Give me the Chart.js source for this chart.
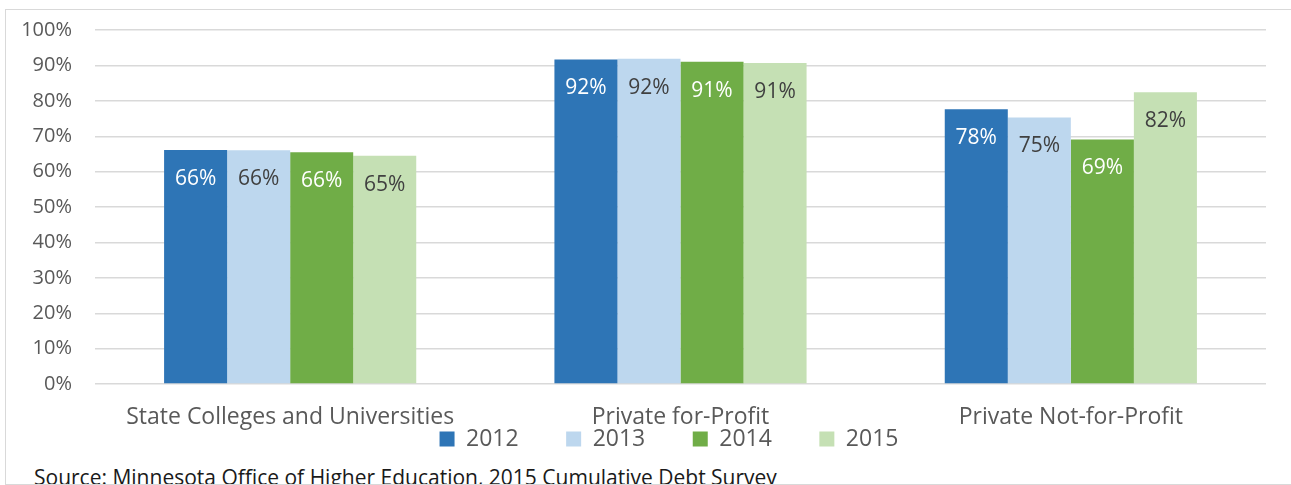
<!DOCTYPE html>
<html>
<head>
<meta charset="utf-8">
<script src="https://cdn.jsdelivr.net/npm/chart.js@4"></script>
<style>
  html, body { margin: 0; padding: 0; background: #fff; overflow: hidden; }
  #wrap { position: relative; width: 1291px; height: 485px; overflow: hidden; }
  #frame {
    position: absolute; left: 5px; top: 8.5px; width: 1300px; height: 476px;
    border: 1.5px solid #d9d9d9; box-sizing: border-box; overflow: hidden;
  }
  #source {
    position: absolute; left: 28px; top: 453px;
    font-family: 'Open Sans', sans-serif; font-size: 21px; color: #1a1a1a; white-space: nowrap;
  }
  canvas { position: absolute; left: 0; top: 0; }
</style>
</head>
<body>
<div id="wrap">
  <div id="frame"><div id="source">Source: Minnesota Office of Higher Education, 2015 Cumulative Debt Survey</div></div>
  <canvas id="chart" width="1291" height="515"></canvas>
</div>
<script>
const categories = ['State Colleges and Universities', 'Private for-Profit', 'Private Not-for-Profit'];
const years = ['2012', '2013', '2014', '2015'];
const values2012 = [66.1, 91.7, 77.6];
const values2013 = [66.0, 91.9, 75.3];
const values2014 = [65.5, 91.0, 69.1];
const values2015 = [64.5, 90.7, 82.4];
const yTicks = [0, 10, 20, 30, 40, 50, 60, 70, 80, 90, 100];

const colors = ['#2E75B6', '#BDD7EE', '#70AD47', '#C5E0B4'];
const labelColors = ['#ffffff', '#404040', '#ffffff', '#404040'];
const FONT = "'Open Sans', sans-serif";

// value labels inside the top of each bar
const barLabels = {
  id: 'barLabels',
  afterDatasetsDraw(chart) {
    const ctx = chart.ctx;
    ctx.save();
    ctx.font = '21px ' + FONT;
    ctx.textAlign = 'center';
    ctx.textBaseline = 'middle';
    chart.data.datasets.forEach((ds, i) => {
      chart.getDatasetMeta(i).data.forEach((bar, j) => {
        ctx.fillStyle = labelColors[i];
        ctx.fillText(Math.round(ds.data[j]) + '%', bar.x, bar.y + 29);
      });
    });
    ctx.restore();
  }
};

// pull the legend up close under the category labels, like the Excel original
const legendPlace = {
  id: 'legendPlace',
  afterLayout(chart) {
    const lg = chart.legend;
    const dy = lg.top + lg.options.labels.padding + 11.5 - 439;
    const dx = 36;
    lg.top -= dy; lg.bottom -= dy;
    lg.left += dx; lg.right += dx;
  }
};

const allValues = [values2012, values2013, values2014, values2015];

new Chart(document.getElementById('chart').getContext('2d'), {
  type: 'bar',
  data: {
    labels: categories,
    datasets: years.map((y, i) => ({
      label: y,
      data: allValues[i],
      backgroundColor: colors[i],
      borderWidth: 0,
      barPercentage: 1,
      categoryPercentage: 0.646,
    })),
  },
  options: {
    responsive: false,
    animation: false,
    layout: { padding: { left: 0, right: 25, top: 30, bottom: 4.5 } },
    plugins: {
      tooltip: { enabled: false },
      legend: {
        position: 'bottom',
        labels: {
          color: '#595959',
          font: { family: FONT, size: 23 },
          boxWidth: 15,
          boxHeight: 15,
          padding: 47.5,
        },
      },
    },
    scales: {
      x: {
        grid: { display: false, drawTicks: false },
        border: { display: false },
        ticks: { color: '#595959', font: { family: FONT, size: 23 }, padding: 20, maxRotation: 0 },
        afterFit: (s) => { s.height = 46; },
      },
      y: {
        min: 0,
        max: 100,
        afterBuildTicks: (s) => { s.ticks = yTicks.map((v) => ({ value: v })); },
        // invisible tick marks give the gap between labels and gridlines
        grid: { color: '#d9d9d9', lineWidth: 1.4, drawTicks: true, tickLength: 23, tickColor: 'rgba(0,0,0,0)' },
        border: { display: false },
        ticks: { color: '#595959', font: { family: FONT, size: 20 }, padding: 0, callback: (v) => v + '%' },
        afterFit: (s) => { s.width = 95; },
      },
    },
  },
  plugins: [barLabels, legendPlace],
});
</script>
</body>
</html>
